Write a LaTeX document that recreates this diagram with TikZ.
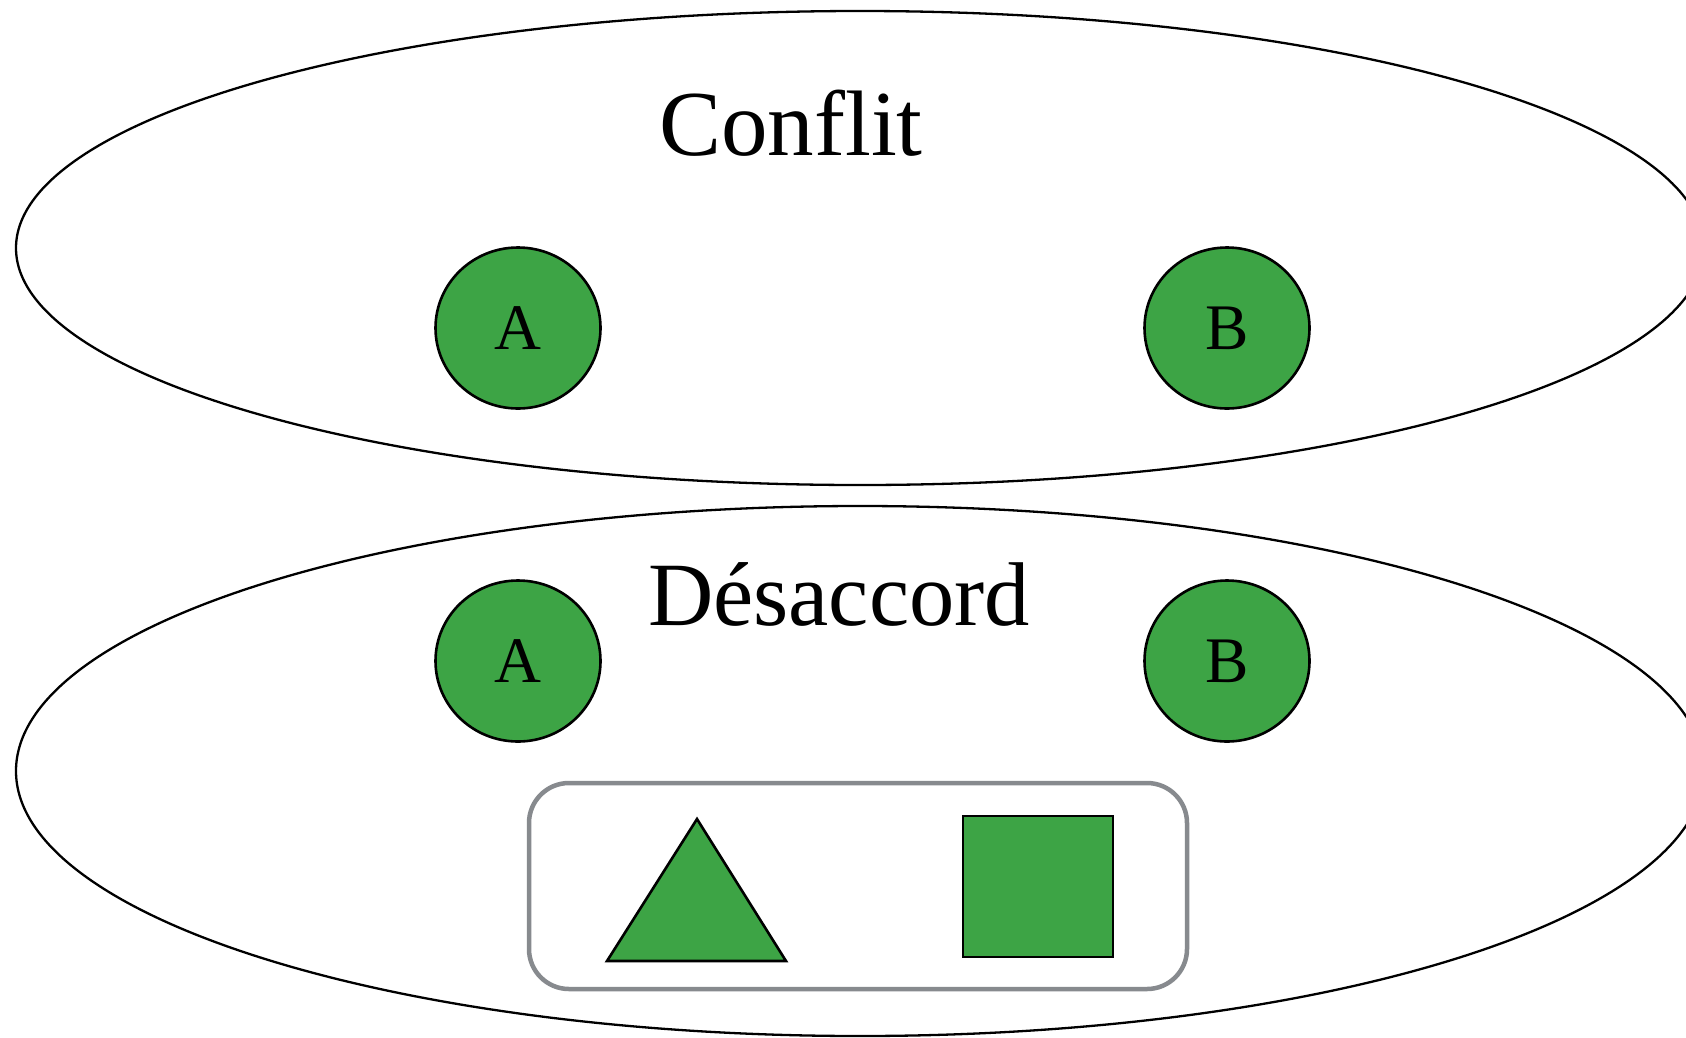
\documentclass[tikz,border=0pt]{standalone}
\usepackage{fontspec}
\setmainfont{Liberation Serif}
\usetikzlibrary{shapes.geometric}
\definecolor{leaf}{RGB}{61,164,69}
\definecolor{frame}{RGB}{135,138,142}
\tikzset{
  zone/.style={ellipse, draw=black, line width=2.3pt, inner sep=0pt, minimum width=1688pt},
  party/.style={ellipse, draw=black, fill=leaf, line width=2.6pt, inner sep=0pt,
    minimum width=165pt, minimum height=161pt, font=\fontsize{65}{70}\selectfont},
  title/.style={anchor=base, inner sep=0pt},
}
\begin{document}
\begin{tikzpicture}[x=1pt,y=-1pt]
\useasboundingbox (0,0) rectangle (1686,1037);
\clip (0,0) rectangle (1686,1037);
\fill[white] (0,0) rectangle (1686,1037);
% zones
\node[zone, minimum height=474pt] (conflit) at (860,248) {};
\node[zone, minimum height=530pt] (desaccord) at (860,771) {};
% titles
\node[title, font=\fontsize{93}{100}\selectfont] (tconf) at (791,155) {Conflit};
\node[title, font=\fontsize{90.5}{96}\selectfont] (tdes) at (839,625) {Désaccord};
% parties
\node[party] (a1) at (518,328) {A};
\node[party] (b1) at (1227,328) {B};
\node[party] (a2) at (518,661) {A};
\node[party] (b2) at (1227,661) {B};
% object box
\node[draw=frame, line width=4.5pt, rounded corners=40pt, inner sep=0pt,
  minimum width=658pt, minimum height=206pt] (box) at (858,886) {};
\coordinate (tA) at (697,819);
\coordinate (tB) at (607,961);
\coordinate (tC) at (786,961);
\draw[fill=leaf, line width=2.6pt, line join=miter] (tA) -- (tB) -- (tC) -- cycle;
\node[draw=black, fill=leaf, line width=2.6pt, inner sep=0pt,
  minimum width=150pt, minimum height=141pt] (sq) at (1038,886.5) {};
\end{tikzpicture}
\end{document}
